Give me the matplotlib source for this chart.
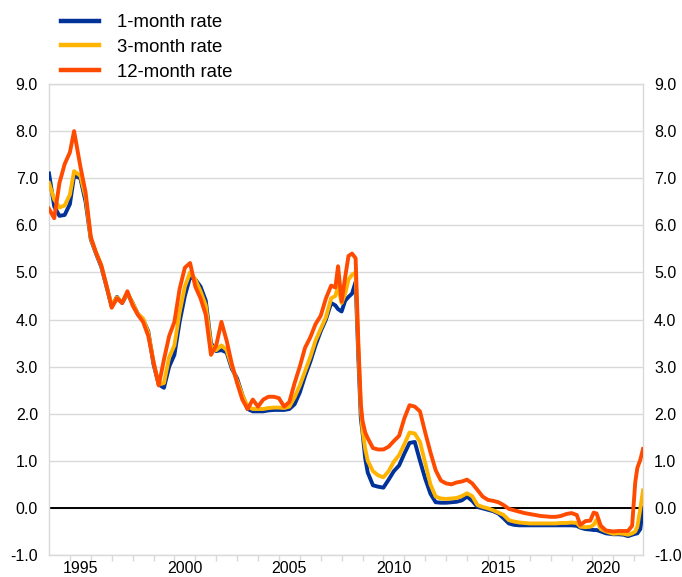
import matplotlib
matplotlib.use("Agg")
import matplotlib.pyplot as plt

# Euribor-style money market rates (decimal years)
dates = [
    1994.00, 1994.25, 1994.50, 1994.75, 1995.00, 1995.20, 1995.50, 1995.75,
    1996.00, 1996.25, 1996.50, 1996.75, 1997.00, 1997.25, 1997.50, 1997.75,
    1998.00, 1998.25, 1998.50, 1998.75, 1999.00, 1999.25, 1999.50, 1999.75,
    2000.00, 2000.25, 2000.50, 2000.75, 2001.00, 2001.25, 2001.50, 2001.75,
    2002.00, 2002.25, 2002.50, 2002.75, 2003.00, 2003.25, 2003.50, 2003.75,
    2004.00, 2004.25, 2004.50, 2004.75, 2005.00, 2005.25, 2005.50, 2005.75,
    2006.00, 2006.25, 2006.50, 2006.75, 2007.00, 2007.25, 2007.50, 2007.70,
    2007.83, 2008.00, 2008.17, 2008.33, 2008.50, 2008.67, 2008.80, 2008.92,
    2009.00, 2009.13, 2009.25, 2009.50, 2009.75, 2010.00, 2010.25, 2010.50,
    2010.75, 2011.00, 2011.25, 2011.50, 2011.75, 2012.00, 2012.25, 2012.50,
    2012.75, 2013.00, 2013.25, 2013.50, 2013.75, 2014.00, 2014.25, 2014.50,
    2014.75, 2015.00, 2015.25, 2015.50, 2015.75, 2016.00, 2016.25, 2016.50,
    2016.75, 2017.00, 2017.25, 2017.50, 2017.75, 2018.00, 2018.25, 2018.50,
    2018.75, 2019.00, 2019.25, 2019.42, 2019.67, 2019.90, 2020.06, 2020.20,
    2020.40, 2020.65, 2021.00, 2021.25, 2021.50, 2021.70, 2021.90, 2022.05,
    2022.15, 2022.29, 2022.42,
]

rate_1m = [
    7.10, 6.40, 6.20, 6.22, 6.45, 7.05, 7.00, 6.50,
    5.70, 5.40, 5.12, 4.70, 4.28, 4.48, 4.35, 4.55,
    4.35, 4.12, 4.00, 3.75, 3.05, 2.62, 2.55, 3.00,
    3.25, 3.95, 4.50, 4.90, 4.85, 4.70, 4.40, 3.50,
    3.33, 3.35, 3.30, 2.95, 2.75, 2.40, 2.10, 2.05,
    2.05, 2.05, 2.07, 2.08, 2.08, 2.08, 2.10, 2.20,
    2.45, 2.80, 3.10, 3.45, 3.75, 4.00, 4.35, 4.30,
    4.22, 4.17, 4.40, 4.48, 4.55, 4.80, 3.20, 1.90,
    1.60, 1.05, 0.75, 0.48, 0.45, 0.43, 0.60, 0.78,
    0.90, 1.15, 1.38, 1.40, 1.00, 0.62, 0.30, 0.12,
    0.11, 0.11, 0.12, 0.13, 0.16, 0.24, 0.15, 0.02,
    -0.01, -0.04, -0.07, -0.12, -0.22, -0.33, -0.36, -0.37,
    -0.37, -0.37, -0.37, -0.37, -0.37, -0.37, -0.37, -0.37,
    -0.37, -0.37, -0.38, -0.42, -0.45, -0.46, -0.47, -0.47,
    -0.50, -0.54, -0.56, -0.56, -0.57, -0.60, -0.57, -0.55,
    -0.54, -0.45, 0.00,
]

rate_3m = [
    6.90, 6.55, 6.38, 6.42, 6.65, 7.15, 7.05, 6.60,
    5.72, 5.42, 5.15, 4.72, 4.30, 4.47, 4.36, 4.56,
    4.35, 4.12, 4.02, 3.72, 3.10, 2.62, 2.65, 3.20,
    3.45, 4.15, 4.70, 5.00, 4.85, 4.60, 4.30, 3.45,
    3.35, 3.45, 3.35, 3.00, 2.70, 2.40, 2.15, 2.10,
    2.10, 2.10, 2.12, 2.13, 2.13, 2.12, 2.15, 2.35,
    2.60, 2.90, 3.20, 3.55, 3.80, 4.05, 4.45, 4.50,
    4.70, 4.35, 4.55, 4.85, 4.95, 5.00, 3.40, 2.10,
    1.65, 1.25, 1.00, 0.78, 0.69, 0.65, 0.78, 0.98,
    1.12, 1.35, 1.60, 1.58, 1.40, 0.95, 0.50, 0.24,
    0.20, 0.19, 0.20, 0.21, 0.25, 0.31, 0.25, 0.06,
    0.02, -0.01, -0.05, -0.10, -0.15, -0.26, -0.29, -0.31,
    -0.32, -0.33, -0.33, -0.33, -0.33, -0.33, -0.33, -0.32,
    -0.32, -0.31, -0.32, -0.40, -0.41, -0.40, -0.36, -0.25,
    -0.45, -0.50, -0.55, -0.54, -0.55, -0.57, -0.54, -0.50,
    -0.40, -0.02, 0.37,
]

rate_12m = [
    6.35, 6.15, 6.90, 7.30, 7.55, 8.00, 7.25, 6.70,
    5.75, 5.42, 5.15, 4.72, 4.25, 4.45, 4.35, 4.60,
    4.30, 4.10, 3.95, 3.65, 3.10, 2.60, 3.15, 3.65,
    3.95, 4.65, 5.10, 5.20, 4.70, 4.45, 4.10, 3.25,
    3.45, 3.95, 3.55, 3.05, 2.65, 2.30, 2.10, 2.30,
    2.15, 2.30, 2.36, 2.36, 2.33, 2.15, 2.25, 2.65,
    3.00, 3.40, 3.62, 3.90, 4.08, 4.45, 4.72, 4.68,
    5.13, 4.38, 4.90, 5.35, 5.40, 5.30, 3.50, 2.20,
    1.85, 1.60, 1.48, 1.27, 1.24, 1.24, 1.30, 1.42,
    1.53, 1.90, 2.18, 2.15, 2.05, 1.60, 1.18, 0.80,
    0.58, 0.52, 0.50, 0.54, 0.56, 0.60, 0.52, 0.38,
    0.24, 0.17, 0.15, 0.12, 0.06, -0.02, -0.05, -0.08,
    -0.11, -0.13, -0.15, -0.17, -0.18, -0.19, -0.19, -0.17,
    -0.13, -0.11, -0.15, -0.36, -0.28, -0.27, -0.10, -0.12,
    -0.38, -0.48, -0.50, -0.49, -0.49, -0.49, -0.38, 0.55,
    0.85, 1.02, 1.25,
]

series_labels = ["1-month rate", "3-month rate", "12-month rate"]
series_colors = ["#003299", "#ffb400", "#ff4b00"]

y_ticks = list(range(-1, 10))
label_years = [1995, 2000, 2005, 2010, 2015, 2020]
year_marks = list(range(1995, 2023))

plt.rcParams["font.family"] = ["Liberation Sans", "DejaVu Sans"]

fig = plt.figure(figsize=(6.82, 5.77), dpi=100)
ax = fig.add_axes([49 / 682, 22 / 577, 594 / 682, 471 / 577])

for values, color, label in zip([rate_1m, rate_3m, rate_12m], series_colors, series_labels):
    ax.plot(dates, values, color=color, lw=2.8, label=label,
            solid_joinstyle="round", zorder=3)

ax.axhline(0, color="black", lw=1.4, zorder=2)

ax.set_xlim(1994.0, 2022.42)
ax.set_ylim(-1, 9)

# y axis: labels on both sides, light horizontal grid
ax.set_yticks(y_ticks)
ax.set_yticklabels([f"{v:.1f}" for v in y_ticks])
ax.yaxis.grid(True, color="#d9d9d9", lw=1.0)
ax.set_axisbelow(True)
ax.tick_params(axis="y", length=0, pad=8, labelsize=11.5,
               labelleft=True, labelright=True)

# x axis: a small mark at each year start, labels centred on the year
ax.set_xticks(year_marks)
ax.set_xticklabels([])
ax.tick_params(axis="x", which="major", length=4, color="#d9d9d9", width=1)
ax.set_xticks([y + 0.5 for y in label_years], minor=True)
ax.set_xticklabels([str(y) for y in label_years], minor=True)
ax.tick_params(axis="x", which="minor", length=0, pad=4, labelsize=11.5)

for spine in ax.spines.values():
    spine.set_color("#d9d9d9")
    spine.set_linewidth(1.0)

leg = fig.legend(loc="upper left", bbox_to_anchor=(61 / 682, 1 - 14 / 577),
                 frameon=False, fontsize=13.4, handlelength=2.05,
                 handletextpad=0.95, labelspacing=0.42,
                 borderpad=0, borderaxespad=0)
for line in leg.get_lines():
    line.set_linewidth(3.2)

fig.savefig("out.png", dpi=100)
